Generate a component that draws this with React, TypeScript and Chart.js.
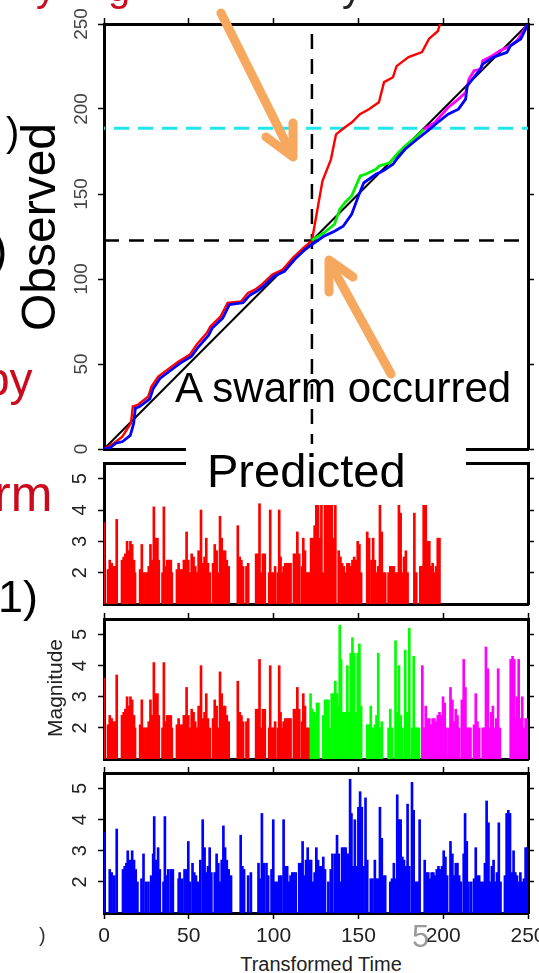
import React, { useEffect, useRef } from "react";
import { Chart, registerables } from "chart.js";

Chart.register(...registerables);

const FONT = '"Liberation Sans", Arial, Helvetica, sans-serif';

// ---- axis ticks ----
const timeTicks = [0, 50, 100, 150, 200, 250];
const countTicks = [0, 50, 100, 150, 200, 250];
const magTicks = [2, 3, 4, 5];

// ---- reference lines (top panel) ----
const swarmTime = 122.6;
const swarmCount = 122.6;
const thresholdCount = 188.7;

// ---- cumulative curves (top panel) ----
const diagT = [0, 250];
const diagN = [0, 250];

const redCumT = [0, 5.8, 10.8, 15.9, 17, 20, 26, 28, 32, 40, 44, 50.5, 54.6, 60.7, 62.7, 68.8, 72.9, 80.8, 84.9, 89, 93, 99.3, 105.4, 111.5, 117.6, 122.6, 128.8, 133.8, 136.8, 142.1, 146.2, 150.9, 156.2, 162.1, 165.1, 170.4, 172.5, 179.6, 187.5, 191.6, 196.9, 198.1];
const redCumN = [0, 3.4, 7.3, 15.3, 25, 26, 30.7, 36.7, 42.6, 48.5, 51.5, 55.4, 61.3, 68.4, 72.1, 78, 85.9, 86.8, 91.8, 93.7, 96.7, 102.6, 105.5, 112.6, 118.3, 122.6, 157.6, 170.4, 185.1, 189.3, 192.2, 196.9, 199.9, 204, 215.8, 218.7, 225.2, 230.5, 233.5, 241.2, 245.9, 250];

const blueCumT = [0, 4, 7, 11, 15.5, 17.5, 18.5, 21, 27, 29, 33, 41, 45, 51.5, 55.6, 61.7, 63.7, 70, 74, 82, 86, 90, 94, 100.3, 106.4, 112.5, 118.6, 122.6, 129.7, 135.9, 141, 146, 150, 153.2, 160.3, 164.4, 170.4, 172.5, 177.5, 184.6, 190.8, 196.9, 202.9, 209, 213.2, 214.2, 217.2, 221.3, 223.3, 229.4, 237.6, 239.6, 245.7, 250];
const blueCumN = [0, 1, 3.4, 4.4, 8, 15, 24, 25, 29.5, 35.5, 41.5, 47.5, 50.5, 54.4, 60, 67, 71, 77, 85, 86, 90.5, 92.7, 95.7, 101.6, 104.5, 111.6, 117.3, 120.3, 125.2, 128.1, 131, 138, 148.8, 156.6, 161.6, 163.5, 167.5, 170.4, 176.3, 182.2, 187.1, 192.2, 196.9, 199.9, 205.8, 213.6, 217.6, 222.5, 226.4, 230.4, 233.3, 237.2, 241.2, 250];

const greenCumT = [122.6, 129.7, 135.9, 139, 142, 146, 151.1, 154.2, 160.3, 162.3, 168.4, 173.5, 177.5, 184.6, 188.7];
const greenCumN = [122.8, 127.2, 132.2, 140.9, 144.9, 148.8, 160.6, 161.6, 164.5, 166.5, 168.4, 174.3, 178.2, 184.1, 188.1];

const magentaCumT = [188.7, 194.9, 202.9, 209, 213.2, 215.2, 218.2, 222.3, 223.3, 227.4, 233.5, 239.6, 243.5, 250];
const magentaCumN = [188.1, 192, 200.9, 205.8, 209.7, 217.6, 222.5, 223.5, 228.4, 230.4, 234.3, 237.2, 240.2, 250];

// ---- magnitudes vs transformed time ----
// events before the swarm (same in the two red panels)
const preTimes = [0, 2.4, 3.4, 4.5, 5.5, 6.5, 7.5, 10.6, 11.6, 12.6, 13.6, 14.6, 15.6, 16.6, 17.7, 18.3, 21.3, 22.3, 23.3, 24.4, 25.4, 26.4, 27.4, 28.4, 29.4, 30.4, 31.5, 32.3, 34.5, 35.3, 36.3, 37.3, 38.4, 39.4, 40.0, 43.0, 44.0, 45.0, 46.1, 47.1, 48.1, 48.7, 49.7, 50.7, 51.7, 52.8, 53.8, 54.8, 55.8, 57.2, 58.2, 59.3, 60.3, 61.3, 62.3, 64.3, 65.3, 66.4, 67.4, 68.4, 69.4, 70.4, 71.4, 72.4, 73.5, 78.9, 80.0, 81.0, 82.0, 84.0, 85.0, 89.7, 90.7, 91.7, 92.7, 93.7, 94.8, 97.4, 98.0, 98.8, 99.8, 100.9, 102.5, 103.3, 104.1, 104.9, 105.9, 106.9, 108.0, 109.0, 110.0, 112.0, 113.0, 114.0, 115.1, 116.7, 117.5, 118.5, 119.5, 120.5];
const preMags = [3.6, 2.1, 2.4, 2.3, 2.2, 2.2, 3.7, 2.4, 2.5, 2.6, 3.0, 2.7, 3.0, 2.9, 2.4, 2.0, 2.1, 2.9, 2.0, 2.0, 2.0, 2.2, 2.9, 2.4, 4.1, 3.1, 3.1, 2.4, 2.0, 4.1, 2.2, 2.4, 2.4, 2.4, 2.0, 2.1, 2.3, 2.1, 2.1, 2.4, 2.4, 3.3, 2.4, 2.0, 2.6, 2.5, 2.2, 2.0, 2.7, 4.0, 2.3, 2.5, 3.1, 2.3, 2.0, 2.3, 2.9, 2.7, 2.0, 3.8, 3.1, 2.7, 2.7, 2.4, 2.2, 3.5, 2.5, 2.4, 2.2, 2.2, 2.3, 2.6, 2.6, 4.2, 2.0, 2.6, 2.6, 2.0, 4.0, 2.0, 2.0, 2.2, 2.0, 4.0, 2.5, 2.0, 2.2, 2.3, 2.3, 2.3, 2.3, 2.6, 2.6, 3.3, 2.6, 2.2, 3.1, 2.7, 2.0, 2.0];

// panel 2: after the swarm, first model
const redPostTimes = [121.1, 122.1, 123.2, 124.2, 125.2, 126.2, 127.2, 128.2, 129.3, 130.3, 131.3, 132.3, 133.3, 134.3, 135.3, 136.4, 138.4, 139.4, 140.4, 141.4, 142.5, 143.5, 144.5, 145.5, 146.5, 147.5, 148.5, 149.6, 150.6, 151.6, 155.2, 156.3, 157.7, 158.7, 159.7, 160.7, 161.7, 162.7, 163.8, 164.8, 165.8, 167.8, 168.8, 169.8, 170.9, 171.9, 172.9, 173.9, 174.9, 175.9, 176.9, 178.0, 179.0, 183.0, 184.1, 186.5, 187.7, 188.5, 189.7, 190.7, 191.8, 192.8, 193.8, 194.8, 195.8, 196.8, 197.8];
const redPostMags = [2.0, 3.1, 3.1, 3.5, 4.15, 4.15, 3.1, 4.15, 2.0, 4.15, 4.15, 4.15, 4.15, 4.15, 3.1, 4.15, 2.7, 2.5, 2.3, 2.2, 2.0, 2.3, 2.3, 2.2, 2.4, 2.5, 2.4, 3.0, 2.9, 2.0, 3.3, 3.1, 2.4, 3.1, 2.4, 2.0, 2.2, 4.15, 3.3, 2.0, 2.0, 2.0, 2.2, 2.2, 2.2, 2.0, 2.0, 4.15, 3.9, 2.0, 2.5, 2.7, 2.0, 3.9, 2.0, 2.2, 2.2, 4.15, 4.15, 3.0, 3.0, 2.2, 2.3, 2.0, 2.2, 3.1, 3.1];

// panel 3: swarm model (green) and after the threshold (magenta)
const greenTimes = [121.8, 122.8, 123.8, 124.8, 125.6, 126.4, 129.3, 130.3, 131.3, 132.3, 133.3, 134.3, 135.3, 136.4, 137.4, 138.4, 139.0, 139.8, 140.8, 142.0, 143.5, 144.5, 145.5, 146.5, 147.5, 148.5, 149.6, 150.6, 151.6, 155.2, 156.3, 157.3, 158.3, 159.7, 160.7, 161.7, 162.7, 163.8, 167.8, 168.8, 169.8, 171.9, 172.9, 173.9, 174.9, 175.9, 177.6, 178.6, 180.0, 181.6, 182.6, 183.6, 184.7, 185.7];
const greenMags = [3.1, 2.6, 2.5, 2.4, 2.8, 2.8, 2.4, 2.9, 2.9, 2.9, 2.0, 3.1, 3.1, 3.5, 3.1, 2.7, 5.3, 4.2, 2.5, 2.5, 4.0, 2.5, 4.4, 4.9, 4.4, 2.5, 4.4, 4.7, 2.7, 2.1, 2.1, 2.7, 2.0, 2.1, 2.4, 4.4, 2.0, 2.2, 2.0, 2.6, 2.0, 4.8, 2.5, 4.0, 2.4, 2.0, 4.5, 2.5, 5.2, 2.0, 4.3, 2.0, 2.0, 2.0];

const magentaTimes = [187.7, 188.5, 189.7, 190.7, 191.8, 192.8, 193.8, 194.8, 195.8, 196.8, 197.8, 198.9, 199.9, 200.9, 201.9, 203.3, 204.3, 205.4, 206.4, 207.4, 208.4, 209.4, 211.0, 212.1, 213.1, 214.1, 215.1, 216.1, 218.2, 219.2, 220.2, 221.2, 223.3, 224.3, 225.2, 226.3, 227.3, 228.3, 229.3, 230.3, 231.3, 232.4, 233.4, 239.8, 240.9, 241.9, 242.9, 243.5, 244.5, 245.5, 246.6, 247.6, 248.6, 249.6];
const magentaMags = [4.0, 2.0, 2.7, 2.3, 2.3, 2.1, 2.3, 2.3, 2.2, 2.4, 2.5, 2.4, 3.0, 2.8, 2.0, 2.0, 3.3, 2.9, 2.2, 2.6, 2.4, 2.0, 2.9, 4.2, 3.3, 2.0, 2.0, 2.0, 2.1, 3.1, 2.2, 2.0, 2.0, 2.0, 4.6, 3.9, 2.0, 2.5, 2.7, 2.0, 2.3, 3.9, 2.0, 4.2, 4.3, 4.2, 2.3, 3.0, 4.2, 2.3, 3.0, 2.0, 2.3, 2.3];

// panel 4: single model over the whole catalogue (blue)
const blueTimes = [
  0, 3.4, 4.5, 6.1, 7.5, 11.2, 12.2, 13.2, 14.0, 15.2,
  16.6, 17.7, 18.7, 19.7, 22.1, 23.3, 24.8, 26.2, 27.8, 29.0,
  29.6, 30.8, 31.9, 32.9, 35.1, 35.9, 36.9, 37.9, 39.4, 40.6,
  44.0, 44.6, 46.1, 47.5, 48.7, 49.7, 50.7, 52.2, 53.2, 54.2,
  55.4, 56.8, 58.2, 59.3, 60.3, 61.3, 62.3, 63.3, 65.3, 66.4,
  67.4, 68.4, 69.4, 70.4, 71.4, 72.4, 73.5, 74.9, 80.6, 81.6,
  82.6, 85.0, 86.6, 91.1, 92.1, 93.1, 94.2, 95.8, 96.8, 98.8,
  99.8, 100.9, 102.1, 103.3, 104.5, 105.9, 106.9, 108.0, 109.0, 110.0,
  111.0, 112.0, 113.0, 115.1, 116.1, 117.1, 118.1, 119.1, 120.1, 121.1,
  122.1, 123.2, 124.2, 125.2, 126.2, 127.2, 128.2, 129.3, 130.3, 132.3,
  133.7, 134.7, 136.4, 137.4, 138.4, 139.4, 140.4, 141.4, 142.5, 143.5,
  144.5, 145.1, 145.9, 146.9, 147.9, 149.1, 150.0, 151.0, 152.0, 153.0,
  154.2, 155.2, 157.3, 158.3, 159.7, 160.7, 161.7, 162.7, 163.8, 164.8,
  165.8, 168.8, 169.8, 170.9, 171.9, 172.9, 173.9, 174.9, 175.9, 176.9,
  178.0, 179.0, 180.0, 181.6, 182.6, 184.1, 185.1, 186.1, 189.1, 190.1,
  191.2, 192.2, 193.2, 194.2, 195.2, 196.2, 197.2, 198.3, 199.3, 200.3,
  201.3, 202.3, 204.3, 205.4, 206.4, 207.4, 208.4, 209.4, 210.4, 212.1,
  212.9, 213.9, 214.9, 216.5, 218.2, 219.2, 220.2, 221.2, 222.2, 223.6,
  224.6, 225.6, 226.7, 227.7, 228.7, 229.7, 230.7, 231.7, 232.8, 233.8,
  236.4, 237.4, 238.4, 239.4, 240.5, 241.5, 242.5, 243.5, 244.5, 245.5,
  246.6, 247.6, 248.6, 249.6,
];
const blueMags = [
  3.6, 2.4, 2.3, 2.2, 3.7, 2.4, 2.5, 2.6, 3.0, 2.7,
  3.0, 2.7, 2.4, 2.0, 2.1, 2.9, 2.0, 2.0, 2.2, 2.9,
  4.1, 2.7, 3.1, 2.4, 2.0, 4.1, 2.2, 2.4, 2.4, 2.4,
  2.1, 2.3, 2.1, 2.4, 2.4, 3.3, 2.0, 2.6, 2.3, 2.2,
  2.0, 2.7, 4.0, 3.1, 2.3, 2.5, 3.1, 2.3, 2.3, 2.9,
  2.6, 2.0, 2.7, 3.8, 3.1, 2.7, 2.4, 2.2, 3.5, 2.5,
  2.4, 2.2, 2.3, 2.6, 2.1, 4.2, 2.6, 2.6, 2.2, 2.4,
  4.0, 2.0, 2.0, 2.2, 2.2, 4.0, 2.5, 2.5, 2.0, 2.2,
  2.3, 2.3, 2.3, 2.6, 2.6, 3.3, 2.2, 2.7, 3.1, 2.7,
  2.7, 2.0, 2.3, 3.1, 2.7, 2.5, 2.5, 2.8, 2.4, 2.0,
  2.4, 2.9, 2.9, 3.5, 2.9, 2.0, 3.1, 3.1, 3.1, 2.9,
  2.9, 5.3, 4.2, 2.5, 4.0, 2.5, 4.4, 4.9, 4.4, 2.5,
  4.7, 2.7, 2.1, 2.1, 2.7, 2.1, 2.1, 4.4, 3.4, 2.2,
  2.2, 2.0, 2.1, 2.6, 2.1, 4.8, 4.0, 4.0, 2.8, 2.7,
  2.5, 4.5, 2.5, 5.2, 4.3, 2.0, 2.0, 4.0, 2.7, 2.3,
  2.3, 2.1, 2.3, 2.3, 2.2, 2.4, 2.5, 2.4, 2.5, 3.0,
  2.8, 2.2, 3.3, 2.9, 2.2, 2.6, 2.6, 2.2, 2.0, 2.9,
  4.2, 3.3, 2.0, 2.0, 2.1, 3.1, 2.2, 2.2, 2.0, 2.0,
  2.6, 4.6, 3.9, 2.0, 2.5, 2.7, 2.0, 2.3, 3.9, 2.0,
  2.2, 4.2, 4.3, 4.2, 2.3, 3.0, 2.3, 2.2, 2.0, 2.3,
  2.0, 2.1, 3.1, 3.1,
];

function pts(xs: number[], ys: number[]) {
  const n = Math.min(xs.length, ys.length);
  const out: { x: number; y: number }[] = [];
  for (let i = 0; i < n; i++) out.push({ x: xs[i], y: ys[i] });
  return out;
}

type Spec = {
  type: "bar" | "scatter";
  height: number;
  topAxis: number;
  bottomAxis: number;
  yMin: number;
  yMax: number;
  yTicks: number[];
  yFont: number;
  yPad: number;
  yColor: string;
  topTicks: boolean;
  bottomTicks: boolean;
  bottomLabels: boolean;
  datasets: any[];
};

function buildConfig(s: Spec): any {
  const setTicks = (vals: number[]) => (scale: any) => {
    scale.ticks = vals.map((v) => ({ value: v }));
  };
  const border = { display: true, color: "#000", width: 3 };
  const grid = (draw: boolean) => ({
    display: true,
    drawOnChartArea: false,
    drawTicks: draw,
    tickLength: 6,
    tickWidth: 1.5,
    tickColor: "#000",
    offset: false,
    color: "#000",
  });
  return {
    type: s.type,
    data: { datasets: s.datasets },
    options: {
      animation: false,
      responsive: false,
      devicePixelRatio: 1,
      layout: { padding: 0 },
      plugins: { legend: { display: false }, tooltip: { enabled: false } },
      scales: {
        x: {
          type: "linear",
          position: "bottom",
          min: 0,
          max: 250,
          offset: false,
          z: 1,
          afterBuildTicks: setTicks(timeTicks),
          afterFit: (sc: any) => {
            sc.height = s.bottomAxis;
            sc.paddingLeft = 0;
            sc.paddingRight = 0;
          },
          grid: grid(s.bottomTicks),
          border,
          ticks: {
            display: s.bottomLabels,
            autoSkip: false,
            maxRotation: 0,
            minRotation: 0,
            padding: 5,
            color: "#222",
            font: { family: FONT, size: 21 },
          },
        },
        xTop: {
          type: "linear",
          position: "top",
          min: 0,
          max: 250,
          offset: false,
          z: 1,
          afterBuildTicks: setTicks(timeTicks),
          afterFit: (sc: any) => {
            sc.height = s.topAxis;
            sc.paddingLeft = 0;
            sc.paddingRight = 0;
          },
          grid: grid(s.topTicks),
          border,
          ticks: { display: false },
        },
        y: {
          type: "linear",
          position: "left",
          min: s.yMin,
          max: s.yMax,
          z: 1,
          afterBuildTicks: setTicks(s.yTicks),
          afterFit: (sc: any) => {
            sc.width = 104;
            sc.paddingTop = 0;
            sc.paddingBottom = 0;
          },
          grid: grid(true),
          border,
          ticks: {
            autoSkip: false,
            minRotation: 90,
            maxRotation: 90,
            crossAlign: "center",
            padding: s.yPad,
            color: s.yColor,
            font: { family: FONT, size: s.yFont },
          },
        },
        yRight: {
          type: "linear",
          position: "right",
          min: s.yMin,
          max: s.yMax,
          z: 1,
          afterBuildTicks: setTicks(s.yTicks),
          afterFit: (sc: any) => {
            sc.width = 11;
            sc.paddingTop = 0;
            sc.paddingBottom = 0;
          },
          grid: grid(true),
          border,
          ticks: { display: false },
        },
      },
    },
  };
}

const line = (data: any[], color: string, width: number, dash: number[] = [], dashOffset = 0) => ({
  data,
  showLine: true,
  borderColor: color,
  backgroundColor: color,
  borderWidth: width,
  borderDash: dash,
  borderDashOffset: dashOffset,
  pointRadius: 0,
  tension: 0,
  fill: false,
});

const bars = (data: any[], color: string) => ({
  data,
  backgroundColor: color,
  borderWidth: 0,
  barThickness: 2,
  grouped: false,
});

const PANELS = [
  { top: 0, height: 456 },
  { top: 456, height: 152 },
  { top: 608, height: 155 },
  { top: 763, height: 190 },
];

export default function App() {
  const refs = [
    useRef<HTMLCanvasElement>(null),
    useRef<HTMLCanvasElement>(null),
    useRef<HTMLCanvasElement>(null),
    useRef<HTMLCanvasElement>(null),
  ];

  useEffect(() => {
    const specs: Spec[] = [
      {
        type: "scatter",
        height: 456,
        topAxis: 24,
        bottomAxis: 7,
        yMin: 0,
        yMax: 250,
        yTicks: countTicks,
        yFont: 19,
        yPad: 0,
        yColor: "#444",
        topTicks: true,
        bottomTicks: false,
        bottomLabels: false,
        datasets: [
          line(pts(blueCumT, blueCumN), "#0000ff", 2.8),
          line(pts(magentaCumT, magentaCumN), "#ff00ff", 2.8),
          line(pts(greenCumT, greenCumN), "#00ee00", 2.8),
          line(pts(redCumT, redCumN), "#ff0000", 2.4),
          line(pts(diagT, diagN), "#000000", 2),
          line([{ x: swarmTime, y: 0 }, { x: swarmTime, y: 250 }], "#000000", 2.5, [15, 10]),
          line([{ x: 0, y: swarmCount }, { x: 250, y: swarmCount }], "#000000", 2.5, [15, 10]),
          line([{ x: 0, y: thresholdCount }, { x: 250, y: thresholdCount }], "#22e5ee", 3, [15, 9], 14),
        ],
      },
      {
        type: "bar",
        height: 152,
        topAxis: 7,
        bottomAxis: 4,
        yMin: 1,
        yMax: 5.5,
        yTicks: magTicks,
        yFont: 20,
        yPad: 12,
        yColor: "#222",
        topTicks: false,
        bottomTicks: false,
        bottomLabels: false,
        datasets: [bars(pts(preTimes, preMags), "#ff0000"), bars(pts(redPostTimes, redPostMags), "#ff0000")],
      },
      {
        type: "bar",
        height: 155,
        topAxis: 11,
        bottomAxis: 4,
        yMin: 1,
        yMax: 5.5,
        yTicks: magTicks,
        yFont: 20,
        yPad: 12,
        yColor: "#222",
        topTicks: true,
        bottomTicks: false,
        bottomLabels: false,
        datasets: [
          bars(pts(preTimes, preMags), "#ff0000"),
          bars(pts(greenTimes, greenMags), "#00ff00"),
          bars(pts(magentaTimes, magentaMags), "#ff00ff"),
        ],
      },
      {
        type: "bar",
        height: 190,
        topAxis: 10,
        bottomAxis: 40,
        yMin: 1,
        yMax: 5.5,
        yTicks: magTicks,
        yFont: 20,
        yPad: 12,
        yColor: "#222",
        topTicks: true,
        bottomTicks: true,
        bottomLabels: true,
        datasets: [bars(pts(blueTimes, blueMags), "#0000ff")],
      },
    ];
    const charts: Chart[] = [];
    specs.forEach((s, i) => {
      const cv = refs[i].current;
      if (cv) charts.push(new Chart(cv, buildConfig(s)));
    });
    return () => charts.forEach((c) => c.destroy());
  }, []);

  const txt = (style: React.CSSProperties, content: string) => (
    <div
      style={{
        position: "absolute",
        whiteSpace: "nowrap",
        lineHeight: 1,
        fontFamily: FONT,
        ...style,
      }}
    >
      {content}
    </div>
  );

  return (
    <div
      style={{
        position: "absolute",
        left: 0,
        top: 0,
        width: 539,
        height: 973,
        overflow: "hidden",
        background: "#fff",
      }}
    >
      {PANELS.map((p, i) => (
        <canvas
          key={i}
          ref={refs[i]}
          width={539}
          height={p.height}
          style={{ position: "absolute", left: 0, top: p.top, width: 539, height: p.height }}
        />
      ))}

      {/* gap in the frame lines for the "Predicted" label */}
      <div style={{ position: "absolute", left: 186, top: 444, width: 280, height: 24, background: "#fff" }} />
      {txt({ left: 207, top: 447, fontSize: 47, color: "#000" }, "Predicted")}
      {txt({ left: 175, top: 367, fontSize: 42, color: "#000" }, "A swarm occurred")}

      {/* axis titles */}
      {txt(
        { left: 39, top: 227, fontSize: 48, color: "#000", transform: "translate(-50%, -50%) rotate(-90deg)" },
        "Observed"
      )}
      {txt(
        { left: 54, top: 688, fontSize: 21, color: "#222", transform: "translate(-50%, -50%) rotate(-90deg)" },
        "Magnitude"
      )}
      {txt({ left: 321, top: 954, fontSize: 20, color: "#222", transform: "translateX(-50%)" }, "Transformed Time")}

      {/* slide fragments around the figure */}
      {txt({ left: 36, top: -33, fontSize: 40, color: "#cc0a1e" }, "y")}
      {txt({ left: 108, top: -33, fontSize: 40, color: "#cc0a1e" }, "g")}
      {txt({ left: 342, top: -33, fontSize: 40, color: "#222" }, "y")}
      {txt({ left: 6, top: 112, fontSize: 40, color: "#000" }, ")")}
      {txt({ left: -8, top: 227, fontSize: 46, color: "#000" }, ")")}
      {txt({ left: -16, top: 356, fontSize: 46, color: "#cc0a1e" }, "py")}
      {txt({ left: -6, top: 469, fontSize: 50, color: "#cc0a1e" }, "rm")}
      {txt({ left: -2, top: 574, fontSize: 45, color: "#000" }, "1)")}
      {txt({ left: 39, top: 925, fontSize: 20, color: "#333" }, ")")}
      {txt({ left: 412, top: 921, fontSize: 31, color: "#9a9a9a" }, "5")}

      {/* arrows */}
      <svg
        width={539}
        height={973}
        style={{ position: "absolute", left: 0, top: 0, pointerEvents: "none" }}
      >
        <g stroke="#f6a85e" strokeWidth={9} strokeLinecap="round" strokeLinejoin="round" fill="none">
          <line x1={221} y1={13} x2={291} y2={153} />
          <polyline points="266,137 293,157 293,123" />
          <line x1={391} y1={374} x2={331} y2={265} />
          <polyline points="329,292 329,260 353,277" />
        </g>
      </svg>
    </div>
  );
}
